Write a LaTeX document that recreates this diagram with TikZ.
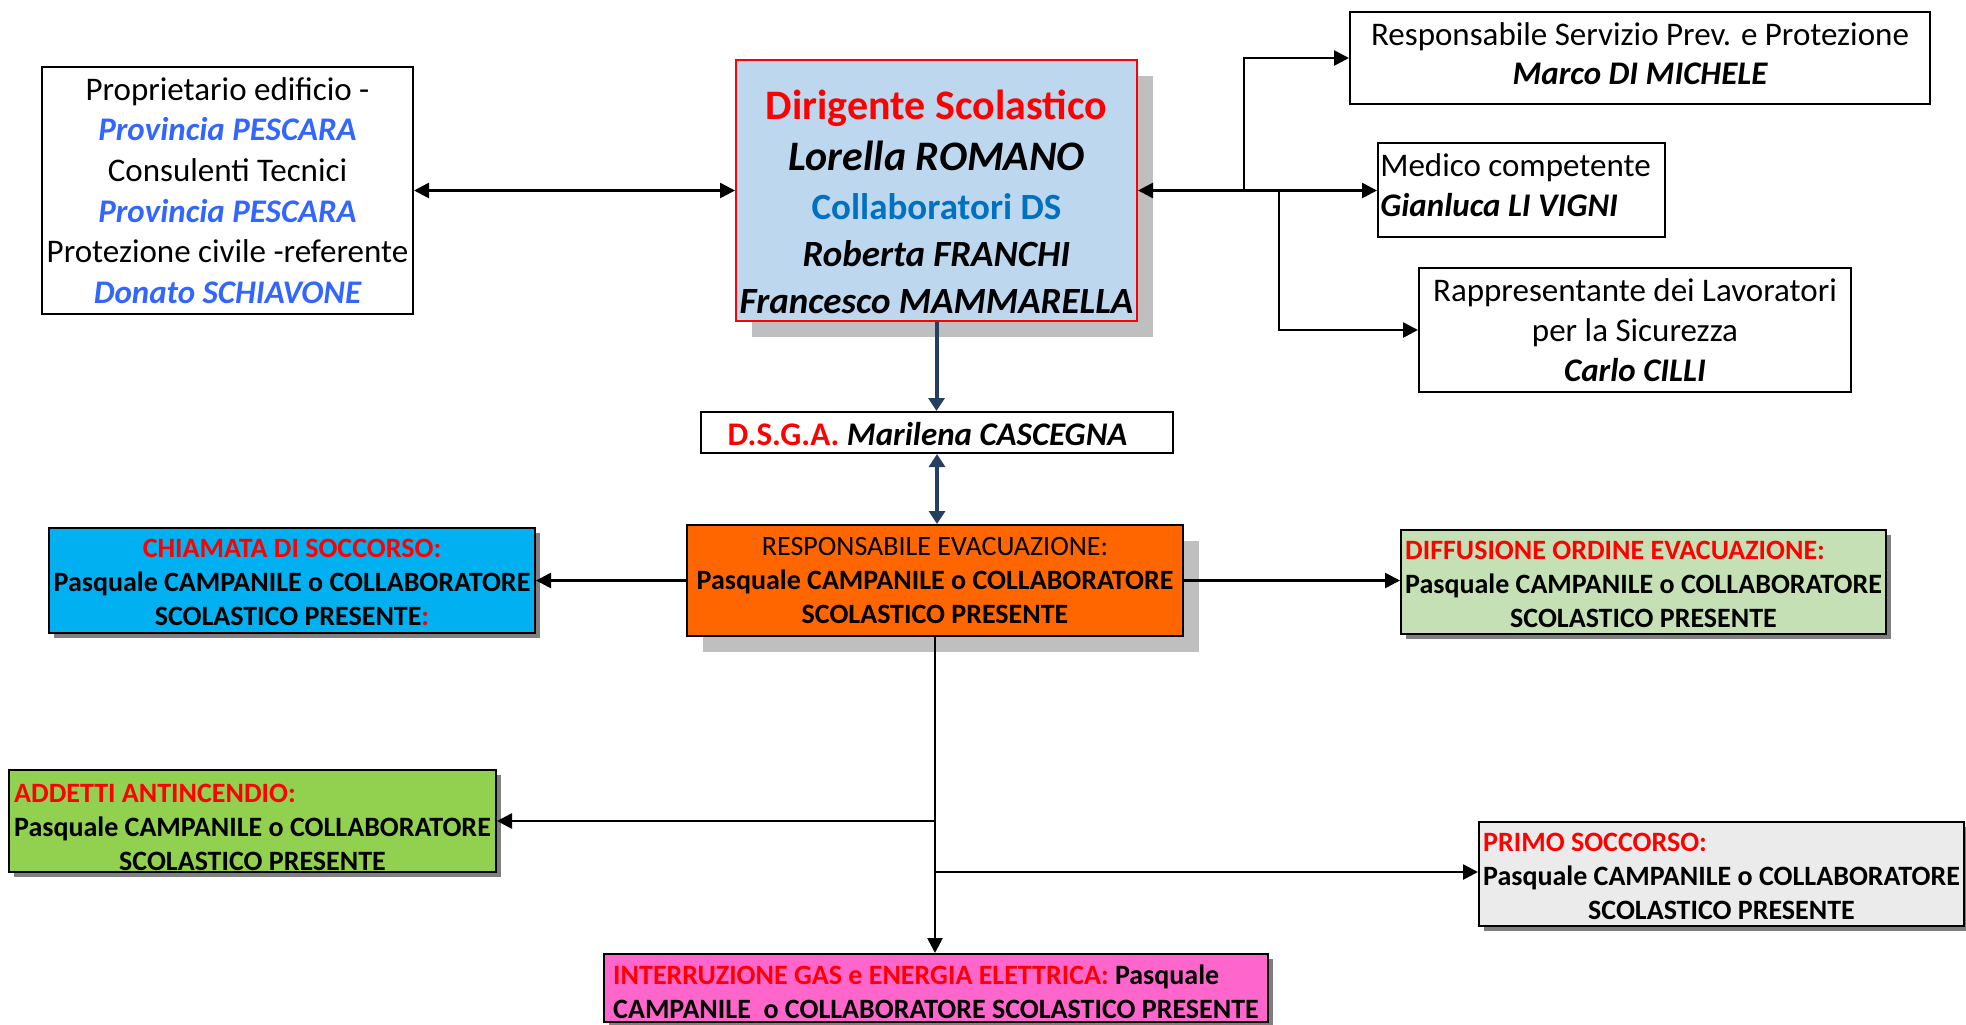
\documentclass[tikz,border=0pt]{standalone}
\usepackage{fontspec}
\setmainfont{Carlito}
\usetikzlibrary{arrows.meta,shadows}
\definecolor{mainfill}{HTML}{BDD7EE}
\definecolor{pblue}{HTML}{3366FF}
\definecolor{cblue}{HTML}{0070C0}
\definecolor{navy}{HTML}{243F60}
\definecolor{orangefill}{HTML}{FF6600}
\definecolor{cyanfill}{HTML}{00B0F0}
\definecolor{lgreenfill}{HTML}{C5E0B4}
\definecolor{greenfill}{HTML}{92D050}
\definecolor{grayfill}{HTML}{EBEBEB}
\definecolor{pinkfill}{HTML}{FF66CC}
\definecolor{shlight}{HTML}{BFBFBF}
\definecolor{shdark}{HTML}{7F7F7F}
\newcommand{\shiftbox}[2]{\raisebox{#1}[\height][\depth]{#2}}
\begin{document}
\begin{tikzpicture}[x=0.5pt,y=-0.5pt,
 box/.style={draw=black, line width=1pt, inner sep=0pt, align=center},
 bigshadow/.style={drop shadow={shadow xshift=8pt, shadow yshift=-8pt, fill=shlight, opacity=1}},
 smallshadow/.style={drop shadow={shadow xshift=2.5pt, shadow yshift=-2.5pt, fill=shdark, opacity=1}},
 txtplain/.style={font=\fontsize{16.5}{20.3}\selectfont},
 txtrole/.style={font=\fontsize{14}{17}\selectfont\bfseries},
 arr/.style={line width=1.3pt, -{Triangle[length=7.5pt,width=7.5pt]}},
 darr/.style={line width=1.3pt, {Triangle[length=7.5pt,width=7.5pt]}-{Triangle[length=7.5pt,width=7.5pt]}},
 navyarr/.style={draw=navy, line width=2pt, -{Triangle[length=6.5pt,width=8pt]}},
 navydarr/.style={draw=navy, line width=2pt, {Triangle[length=6.5pt,width=8pt]}-{Triangle[length=6.5pt,width=8pt]}},
]
\useasboundingbox (0,0) rectangle (1966,1024);

% top row
\node[box, txtplain, minimum width=185.5pt, minimum height=123.5pt] (owner) at (227.5,190.5)
 {Proprietario edificio -\\ \textcolor{pblue}{\bfseries\itshape Provincia PESCARA}\\ Consulenti Tecnici\\ \textcolor{pblue}{\bfseries\itshape Provincia PESCARA}\\ Protezione civile -referente\\ \textcolor{pblue}{\bfseries\itshape Donato SCHIAVONE}};

\node[box, draw=red, fill=mainfill, bigshadow, minimum width=200.5pt, minimum height=130.5pt, font=\fontsize{18.5}{23.5}\selectfont\bfseries] (ds) at (936.5,190.5)
 {\rule{0pt}{26pt}{\fontsize{21}{23.5}\selectfont\color{red}Dirigente Scolastico}\\[2pt] {\fontsize{21}{23.5}\selectfont\itshape Lorella ROMANO}\\[1pt] \textcolor{cblue}{Collaboratori DS}\\ {\itshape Roberta FRANCHI}\\ {\itshape Francesco MAMMARELLA}};

\node[box, font=\fontsize{16.5}{19.5}\selectfont, minimum width=290pt, minimum height=46pt] (rspp) at (1640,58)
 {\shiftbox{0.3pt}{\begin{tabular}{@{}c@{}}Responsabile Servizio Prev. e Protezione\\ {\bfseries\itshape Marco DI MICHELE}\end{tabular}}};

\node[box, font=\fontsize{16.5}{20}\selectfont, minimum width=143.5pt, minimum height=47pt] (med) at (1521.5,190)
 {\shiftbox{0.6pt}{\begin{tabular}{@{}l@{}}Medico competente\hspace*{6pt}\\ {\bfseries\itshape Gianluca LI VIGNI}\end{tabular}}};

\node[box, font=\fontsize{16.5}{20}\selectfont, minimum width=216pt, minimum height=62pt] (rls) at (1635,330)
 {Rappresentante dei Lavoratori\\ per la Sicurezza\\ {\bfseries\itshape Carlo CILLI}};

% middle
\node[box, font=\fontsize{16.5}{20}\selectfont\bfseries, minimum width=236pt, minimum height=20.5pt] (dsga) at (937,432.5)
 {\shiftbox{-0.8pt}{\textcolor{red}{D.S.G.A.} \textit{Marilena CASCEGNA}\hspace*{9.5pt}}};

\node[box, fill=orangefill, bigshadow, txtrole, minimum width=248pt, minimum height=55.5pt] (resp) at (935,580.5)
 {{\mdseries RESPONSABILE EVACUAZIONE:}\\ Pasquale CAMPANILE o COLLABORATORE\\ SCOLASTICO PRESENTE};

\node[box, fill=cyanfill, smallshadow, txtrole, minimum width=243pt, minimum height=52.5pt] (call) at (292,580.5)
 {\shiftbox{-2pt}{\begin{tabular}{@{}c@{}}\textcolor{red}{CHIAMATA DI SOCCORSO:}\\ Pasquale CAMPANILE o COLLABORATORE\\ SCOLASTICO PRESENTE\textcolor{red}{:}\end{tabular}}};

\node[box, fill=lgreenfill, smallshadow, txtrole, minimum width=242.5pt, minimum height=52pt] (diff) at (1643.5,582)
 {\shiftbox{-2.5pt}{\begin{tabular}{@{}c@{}}\multicolumn{1}{@{}l@{}}{\textcolor{red}{DIFFUSIONE ORDINE EVACUAZIONE:}}\\ Pasquale CAMPANILE o COLLABORATORE\\ SCOLASTICO PRESENTE\end{tabular}}};

% bottom
\node[box, fill=greenfill, smallshadow, txtrole, minimum width=243.5pt, minimum height=49pt] (fire) at (252.5,821)
 {\shiftbox{-4.4pt}{\begin{tabular}{@{}c@{}}\multicolumn{1}{@{}l@{}}{\textcolor{red}{ADDETTI ANTINCENDIO:}}\\ Pasquale CAMPANILE o COLLABORATORE\\ SCOLASTICO PRESENTE\end{tabular}}};

\node[box, fill=grayfill, smallshadow, txtrole, minimum width=242.5pt, minimum height=52pt] (aid) at (1721.5,874)
 {\shiftbox{-2.5pt}{\begin{tabular}{@{}c@{}}\multicolumn{1}{@{}l@{}}{\textcolor{red}{PRIMO SOCCORSO:}}\\ Pasquale CAMPANILE o COLLABORATORE\\ SCOLASTICO PRESENTE\end{tabular}}};

\node[box, fill=pinkfill, smallshadow, txtrole, minimum width=332pt, minimum height=34pt] (gas) at (936,988)
 {\shiftbox{-3.5pt}{\begin{tabular}{@{}l@{}}\textcolor{red}{INTERRUZIONE GAS e ENERGIA ELETTRICA:} Pasquale\\ CAMPANILE\ \ o COLLABORATORE SCOLASTICO PRESENTE\end{tabular}}};

% connectors
\coordinate (j1) at (1244,190.5);
\coordinate (j2) at (1279,190.5);
\coordinate (j3) at (935,821);
\coordinate (j4) at (935,872);

\draw[darr] (owner.east) -- (ds.west);
\draw[darr] (ds.east) -- (j1) |- (rspp.west);
\draw[arr] (j1) -- (j1 -| med.west);
\draw[arr] (j2) |- (rls.west);
\draw[navyarr] (ds.south) -- (ds.south |- dsga.north);
\draw[navydarr] (dsga.south) -- (dsga.south |- resp.north);
\draw[arr] (resp.west) -- (call.east);
\draw[arr] (resp.east) -- (resp.east -| diff.west);
\draw[arr] (resp.south) -- (resp.south |- gas.north);
\draw[arr] (j3) -- (fire.east);
\draw[arr] (j4) -- (j4 -| aid.west);
\end{tikzpicture}
\end{document}
